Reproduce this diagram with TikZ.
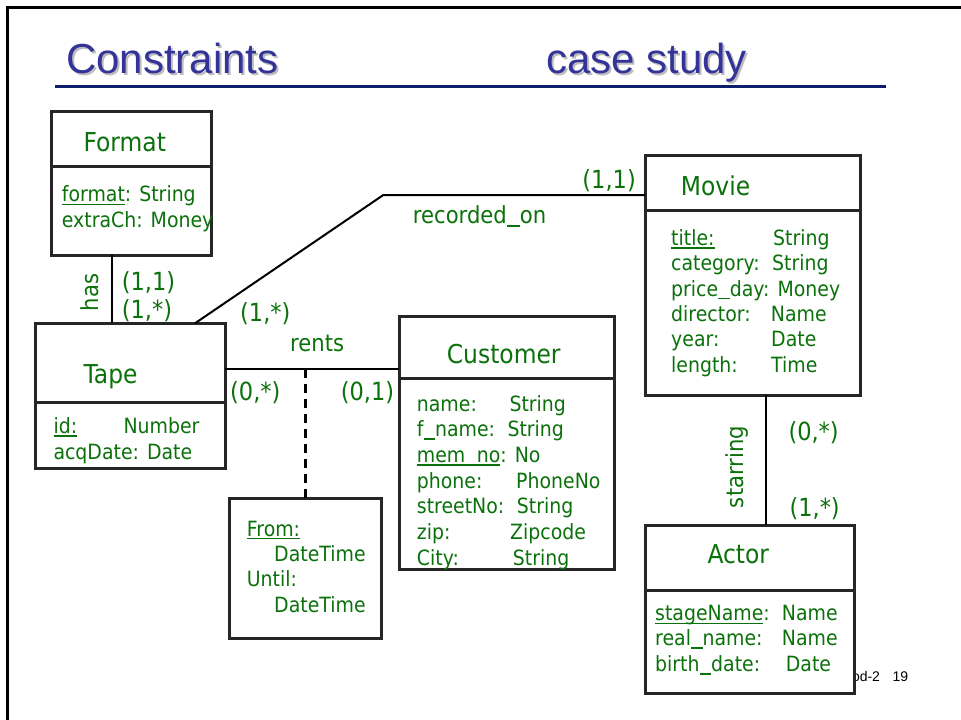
\documentclass[tikz,border=0pt]{standalone}
\usepackage{fontspec}
\setmainfont{DejaVu Sans}[FakeStretch=0.9]
\newfontfamily\titlefont{Liberation Sans}
\newfontfamily\footfont{Liberation Sans}
\definecolor{grn}{HTML}{0B710B}
\definecolor{boxc}{HTML}{262626}
\definecolor{ttl}{HTML}{333399}
\definecolor{navy}{HTML}{0E1E6E}
\definecolor{shd}{HTML}{BDBDBD}
\newcommand\fs[1]{\fontsize{#1}{#1}\selectfont}
\newcommand\myul[1]{\setbox0\hbox{#1}\rlap{\rule[-3.4pt]{\wd0}{1.6pt}}\box0}
\newcommand\us{\rule[-0.15em]{0.55em}{0.07em}}
\newcommand\shadowed[1]{\rlap{\kern2pt\raisebox{-2pt}{\textcolor{shd}{#1}}}\textcolor{ttl}{#1}}
\tikzset{
  ent/.style={draw=boxc, line width=3pt, fill=white, rectangle, inner sep=0pt, outer sep=0pt, anchor=north west},
  divl/.style={draw=boxc, line width=3pt},
  conn/.style={draw=black, line width=2pt},
  dashline/.style={draw=black, line width=3pt, dash pattern=on 9pt off 6pt},
  attr/.style={text=grn, inner sep=0pt, anchor=base west, font=\fs{21}},
  ename/.style={text=grn, inner sep=0pt, anchor=base west, font=\fs{26}},
  rel/.style={text=grn, inner sep=0pt, font=\fs{23.5}},
  card/.style={text=grn, inner sep=0pt, anchor=base west, font=\fs{25}},
  ttxt/.style={inner sep=0pt, anchor=base west, font=\titlefont\fs{42}},
}
\begin{document}
\begin{tikzpicture}[x=1pt,y=-1pt]
\useasboundingbox (0,0) rectangle (961,720);
% frame
\draw[line width=3pt, black] (7,720) -- (7,7) -- (961,7);
% title
\node[ttxt] (t1) at (66,73) {\shadowed{Constraints}};
\node[ttxt] (t2) at (546,73) {\shadowed{case study}};
\draw[navy, line width=3pt] (55,86) -- (886,86);

% footer (partly covered by the Actor box)
\node[inner sep=0pt, anchor=base east, font=\footfont\fs{14}] (foot) at (908.3,681.7) {od-2\hspace{12.5pt}19};

% helper coordinates
\coordinate (hasx) at (111.7,0);
\coordinate (recA) at (195,0);
\coordinate (recB) at (383.3,195);
\coordinate (rentsy) at (0,369.3);
\coordinate (rentsp) at (305,369.3);
\coordinate (starx) at (766,0);

% boxes
\node[ent, minimum width=160pt, minimum height=143.3pt] (format) at (51.7,111.7) {};
\node[ent, minimum width=190pt, minimum height=145pt] (tape) at (35,323.3) {};
\node[ent, minimum width=215pt, minimum height=253.3pt] (customer) at (399,316) {};
\node[ent, minimum width=215pt, minimum height=240pt] (movie) at (645,155) {};
\node[ent, minimum width=209pt, minimum height=168.3pt] (actor) at (645,525) {};
\node[ent, minimum width=152pt, minimum height=140pt] (rentattr) at (229,498.5) {};

% dividers
\draw[divl] (51.7,166.7) -- (211.7,166.7);
\draw[divl] (35,402.7) -- (225,402.7);
\draw[divl] (399,378.3) -- (614,378.3);
\draw[divl] (645,210.7) -- (860,210.7);
\draw[divl] (645,590) -- (854,590);

% connectors
\draw[conn] (format.south -| hasx) -- (tape.north -| hasx);
\draw[conn] (tape.north -| recA) -- (recB) -- (movie.west |- recB);
\draw[conn] (tape.east |- rentsy) -- (customer.west |- rentsy);
\draw[dashline] (rentsp) -- (rentattr.north -| rentsp);
\draw[conn] (movie.south -| starx) -- (actor.north -| starx);

% entity names
\node[ename] (format-t) at (83.3,151.7) {Format};
\node[ename] (tape-t) at (83.3,383.3) {Tape};
\node[ename] (customer-t) at (446.7,363.3) {Customer};
\node[ename] (movie-t) at (680.7,195) {Movie};
\node[ename] (actor-t) at (707.3,563.3) {Actor};

% relationship names
\node[rel, anchor=base west] (rents-l) at (290,351.7) {rents};
\node[rel, anchor=base west] (rec-l) at (412.7,223.3) {recorded\us on};
\node[rel, rotate=90] (has-l) at (90,292.5) {has};
\node[rel, rotate=90] (star-l) at (737.5,467) {starring};

% cardinalities
\node[card] (c1) at (121.7,290) {(1,1)};
\node[card] (c2) at (121.7,318) {(1,*)};
\node[card] (c3) at (240,321.7) {(1,*)};
\node[card, anchor=base east] (c4) at (636,188.3) {(1,1)};
\node[card] (c5) at (230,400) {(0,*)};
\node[card] (c6) at (340.7,400) {(0,1)};
\node[card] (c7) at (788.3,440) {(0,*)};
\node[card] (c8) at (789.3,516) {(1,*)};

% Format attributes
\node[attr] (fa1) at (61.7,201.7) {\myul{format}: String};
\node[attr] (fa2) at (61.7,227.7) {extraCh: Money};

% Tape attributes
\node[attr] (ta1) at (53.3,433.3) {\myul{id:}};
\node[attr] (tv1) at (123.3,433.3) {Number};
\node[attr] (ta2) at (53.3,459.3) {acqDate: Date};

% Customer attributes
\node[attr] (ca1) at (416.7,411) {name:};
\node[attr] (cv1) at (509.3,411) {String};
\node[attr] (ca2) at (416.7,436.7) {f\us name:};
\node[attr] (cv2) at (507.3,436.7) {String};
\node[attr] (ca3) at (416.7,462.4) {\myul{mem\us no}: No};
\node[attr] (ca4) at (416.7,488.1) {phone:};
\node[attr] (cv4) at (516,488.1) {PhoneNo};
\node[attr] (ca5) at (416.7,513.8) {streetNo:};
\node[attr] (cv5) at (516.7,513.8) {String};
\node[attr] (ca6) at (416.7,539.5) {zip:};
\node[attr] (cv6) at (510,539.5) {Zipcode};
\node[attr] (ca7) at (416.7,565.2) {City:};
\node[attr] (cv7) at (512.7,565.2) {String};

% Movie attributes
\node[attr] (ma1) at (671,245.3) {\myul{title:}};
\node[attr] (mv1) at (773,245.3) {String};
\node[attr] (ma2) at (671,270.7) {category:};
\node[attr] (mv2) at (772,270.7) {String};
\node[attr] (ma3) at (671,296) {price\us day: Money};
\node[attr] (ma4) at (671,321.7) {director:};
\node[attr] (mv4) at (770.7,321.7) {Name};
\node[attr] (ma5) at (671,346.7) {year:};
\node[attr] (mv5) at (771,346.7) {Date};
\node[attr] (ma6) at (671,372.3) {length:};
\node[attr] (mv6) at (771,372.3) {Time};

% Actor attributes
\node[attr] (aa1) at (655,620.7) {\myul{stageName}:};
\node[attr] (av1) at (781.7,620.7) {Name};
\node[attr] (aa2) at (655,645.7) {real\us name:};
\node[attr] (av2) at (781.7,645.7) {Name};
\node[attr] (aa3) at (655,671.7) {birth\us date:};
\node[attr] (av3) at (785.7,671.7) {Date};

% rents attributes
\node[attr] (ra1) at (246.7,536) {\myul{From:}};
\node[attr] (ra2) at (274,561.7) {DateTime};
\node[attr] (ra3) at (246.7,586.7) {Until:};
\node[attr] (ra4) at (274,612.7) {DateTime};
\end{tikzpicture}
\end{document}
